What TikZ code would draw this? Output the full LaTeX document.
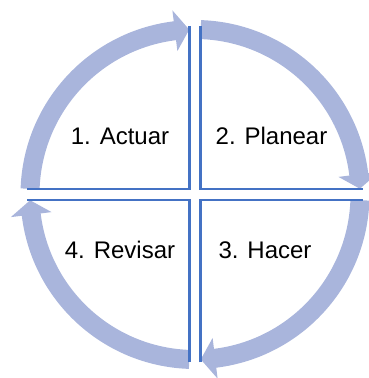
\documentclass[tikz,border=0pt]{standalone}
\usepackage{fontspec}
\setmainfont{Liberation Sans}
\usetikzlibrary{positioning}

\definecolor{ringblue}{RGB}{169,181,220}
\definecolor{lineblue}{RGB}{68,114,196}

\begin{document}
\begin{tikzpicture}[
  x=1pt, y=1pt,
  ring/.style={fill=ringblue, draw=none},
  quad/.style={draw=lineblue, line width=2.3pt},
  lbl/.style={font=\fontsize{24}{28}\selectfont, anchor=base, inner sep=0pt},
]
  \useasboundingbox (0,0) rectangle (369,378);

  \begin{scope}[shift={(195,183.5)}]
    % Cycle arrows (radius 165, band 19, head 41)
    \foreach \a/\b in {178/92, 88/2, -2/-88, -92/-178} {
      \fill[ring] (\a:174.5) arc[start angle=\a, end angle=\b+5, radius=174.5]
        -- ({\b+5}:185.5) -- (\b:165) -- ({\b+5}:144.5)
        -- ({\b+5}:155.5) arc[start angle=\b+5, end angle=\a, radius=155.5] -- cycle;
    }

    % Quadrant borders
    \draw[quad] (-5.5,168) -- (-5.5,5.5) -- (-168,5.5);
    \draw[quad] (5.5,168) -- (5.5,5.5) -- (168,5.5);
    \draw[quad] (5.5,-168) -- (5.5,-5.5) -- (168,-5.5);
    \draw[quad] (-5.5,-168) -- (-5.5,-5.5) -- (-168,-5.5);

    % Steps
    \node[lbl] (act) at (-75,49.5)  {1. Actuar};
    \node[lbl] (pla) at (76.5,49.5) {2. Planear};
    \node[lbl] (hac) at (70,-64.5)  {3. Hacer};
    \node[lbl] (rev) at (-75,-64.5) {4. Revisar};
  \end{scope}

\end{tikzpicture}
\end{document}
